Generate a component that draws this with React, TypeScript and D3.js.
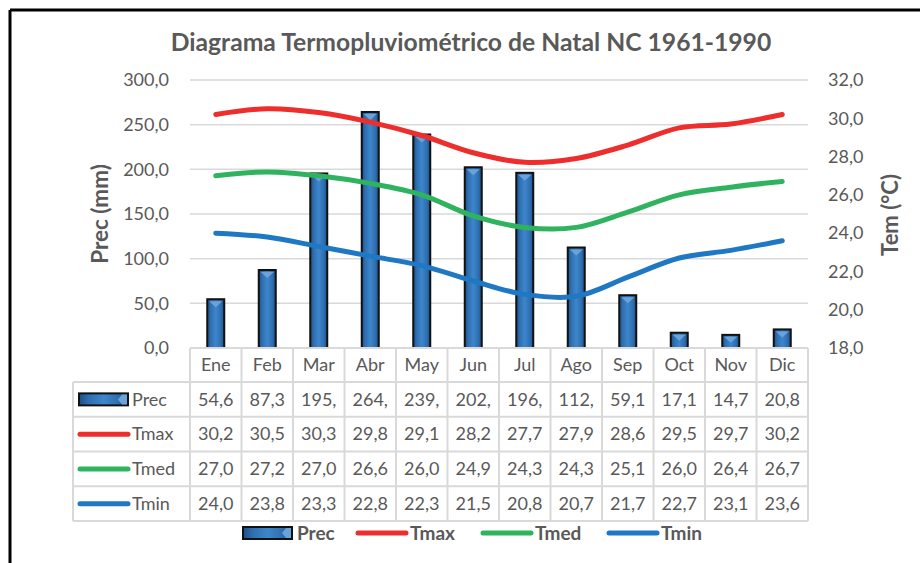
import React from "react";
import * as d3 from "d3";

// data
const months = ["Ene", "Feb", "Mar", "Abr", "May", "Jun", "Jul", "Ago", "Sep", "Oct", "Nov", "Dic"];
const prec = [54.6, 87.3, 195.4, 264.2, 239.0, 202.3, 196.1, 112.5, 59.1, 17.1, 14.7, 20.8];
const tmax = [30.2, 30.5, 30.3, 29.8, 29.1, 28.2, 27.7, 27.9, 28.6, 29.5, 29.7, 30.2];
const tmed = [27.0, 27.2, 27.0, 26.6, 26.0, 24.9, 24.3, 24.3, 25.1, 26.0, 26.4, 26.7];
const tmin = [24.0, 23.8, 23.3, 22.8, 22.3, 21.5, 20.8, 20.7, 21.7, 22.7, 23.1, 23.6];
const precTicks = [0, 50, 100, 150, 200, 250, 300];
const tempTicks = [18, 20, 22, 24, 26, 28, 30, 32];

const lineSeries = [
  { name: "Tmax", values: tmax, color: "#ee2d2d" },
  { name: "Tmed", values: tmed, color: "#2fb35f" },
  { name: "Tmin", values: tmin, color: "#1f78c4" }
];
const rowNames = ["Prec", "Tmax", "Tmed", "Tmin"];

const W = 920;
const H = 563;
const textColor = "#595959";
const gridColor = "#d9d9d9";
const font = "Lato, 'Open Sans', sans-serif";

// excel-like number text, clipped to the cell width
const fmt = (v: number) => v.toFixed(1).replace(".", ",");
const cellText = (v: number) => fmt(v).slice(0, 4);

const App = () => {
  const x = d3.scaleBand().domain(months).range([190, 808]);
  const yPrec = d3.scaleLinear().domain([0, 300]).range([348, 80]);
  const yTemp = d3.scaleLinear().domain([18, 32]).range([348, 80]);
  const rowY = d3.scaleBand().domain(rowNames).range([382, 521]);
  const cx = (m: string) => (x(m) as number) + x.bandwidth() / 2;
  const barW = 17;

  const tempLine = d3
    .line<number>()
    .x((_, i) => cx(months[i]))
    .y(v => yTemp(v))
    .curve(d3.curveCatmullRom);

  const values: Record<string, number[]> = { Prec: prec, Tmax: tmax, Tmed: tmed, Tmin: tmin };
  const colorOf: Record<string, string> = { Tmax: "#ee2d2d", Tmed: "#2fb35f", Tmin: "#1f78c4" };

  const legendItems = [
    { name: "Prec", x: 243 },
    { name: "Tmax", x: 356 },
    { name: "Tmed", x: 481 },
    { name: "Tmin", x: 607 }
  ];

  const PrecKey = ({ x0, y0 }: { x0: number; y0: number }) => (
    <g>
      <rect x={x0} y={y0 - 6} width={49} height={12} fill="url(#barGrad)" stroke="#111" strokeWidth={2} />
      <polygon points={`${x0 + 43},${y0 - 5} ${x0 + 48},${y0 - 5} ${x0 + 48},${y0 + 5} ${x0 + 43},${y0 + 5} ${x0 + 39},${y0}`} fill="#6aa3da" />
    </g>
  );

  return (
    <div style={{ position: "absolute", left: 0, top: 0 }}>
      <svg width={W} height={H} style={{ display: "block", background: "#fff" }} fontFamily={font}>
        <defs>
          <linearGradient id="barGrad" x1="0" x2="1" y1="0" y2="0">
            <stop offset="0" stopColor="#1d4f85" />
            <stop offset="0.2" stopColor="#2f6fb0" />
            <stop offset="0.5" stopColor="#3d86cc" />
            <stop offset="0.8" stopColor="#2f6fb0" />
            <stop offset="1" stopColor="#1d4f85" />
          </linearGradient>
        </defs>

        {/* frame */}
        <line x1={10} y1={10} x2={W} y2={10} stroke="#000" strokeWidth={3} />
        <line x1={10} y1={10} x2={10} y2={H} stroke="#000" strokeWidth={3} />

        {/* title */}
        <text x={471} y={51} textAnchor="middle" fontSize={24.7} fontWeight="bold" fill={textColor}>
          Diagrama Termopluviométrico de Natal NC 1961-1990
        </text>

        {/* gridlines */}
        {precTicks.slice(1).map(t => (
          <line key={t} x1={190} x2={808} y1={yPrec(t)} y2={yPrec(t)} stroke={gridColor} strokeWidth={1.5} />
        ))}

        {/* left axis */}
        {precTicks.map(t => (
          <text key={t} x={169} y={yPrec(t)} dy="0.35em" textAnchor="end" fontSize={18} fill={textColor}>
            {fmt(t)}
          </text>
        ))}
        <text transform="translate(100,214) rotate(-90)" dy="0.35em" textAnchor="middle" fontSize={22.5} fontWeight="bold" fill={textColor}>
          Prec (mm)
        </text>

        {/* right axis */}
        {tempTicks.map(t => (
          <text key={t} x={828} y={yTemp(t)} dy="0.35em" textAnchor="start" fontSize={18} fill={textColor}>
            {fmt(t)}
          </text>
        ))}
        <text transform="translate(890,215) rotate(-90)" dy="0.35em" textAnchor="middle" fontSize={22} fontWeight="bold" fill={textColor}>
          Tem (°C)
        </text>

        {/* bars */}
        {prec.map((v, i) => {
          const bx = cx(months[i]) - barW / 2;
          const top = yPrec(v);
          return (
            <g key={months[i]}>
              <rect x={bx} y={top} width={barW} height={yPrec(0) - top} fill="url(#barGrad)" stroke="#111" strokeWidth={2} />
              <polygon
                points={`${bx + 2},${top + 2} ${bx + barW - 2},${top + 2} ${bx + barW / 2},${top + 8}`}
                fill="#6aa3da"
              />
            </g>
          );
        })}

        {/* temperature lines */}
        {lineSeries.map(s => (
          <path key={s.name} d={tempLine(s.values) || ""} fill="none" stroke={s.color} strokeWidth={5} strokeLinecap="round" strokeLinejoin="round" />
        ))}

        {/* data table */}
        <g stroke={gridColor} strokeWidth={2}>
          <line x1={190} x2={808} y1={348} y2={348} />
          {rowNames.map(r => (
            <line key={r} x1={73} x2={808} y1={rowY(r)} y2={rowY(r)} />
          ))}
          <line x1={73} x2={808} y1={521} y2={521} />
          <line x1={73} x2={73} y1={382} y2={521} />
          {months.map(m => (
            <line key={m} x1={x(m)} x2={x(m)} y1={348} y2={521} />
          ))}
          <line x1={808} x2={808} y1={348} y2={521} />
        </g>
        {months.map(m => (
          <text key={m} x={cx(m)} y={365} dy="0.35em" textAnchor="middle" fontSize={18} fill={textColor}>
            {m}
          </text>
        ))}
        {rowNames.map(r => {
          const ry = (rowY(r) as number) + rowY.bandwidth() / 2;
          return (
            <g key={r}>
              {r === "Prec" ? (
                <PrecKey x0={79} y0={ry} />
              ) : (
                <line x1={80} x2={128} y1={ry} y2={ry} stroke={colorOf[r]} strokeWidth={5} strokeLinecap="round" />
              )}
              <text x={132} y={ry} dy="0.35em" fontSize={18} fill={textColor}>
                {r}
              </text>
              {values[r].map((v, i) => (
                <text key={i} x={cx(months[i])} y={ry} dy="0.35em" textAnchor="middle" fontSize={18} fill={textColor}>
                  {cellText(v)}
                </text>
              ))}
            </g>
          );
        })}

        {/* legend */}
        {legendItems.map(it => (
          <g key={it.name}>
            {it.name === "Prec" ? (
              <PrecKey x0={it.x} y0={533} />
            ) : (
              <line x1={it.x + 2} x2={it.x + 50} y1={533} y2={533} stroke={colorOf[it.name]} strokeWidth={5} strokeLinecap="round" />
            )}
            <text x={it.x + 54} y={533} dy="0.35em" fontSize={19} fontWeight="bold" fill={textColor}>
              {it.name}
            </text>
          </g>
        ))}
      </svg>
    </div>
  );
};

export default App;
